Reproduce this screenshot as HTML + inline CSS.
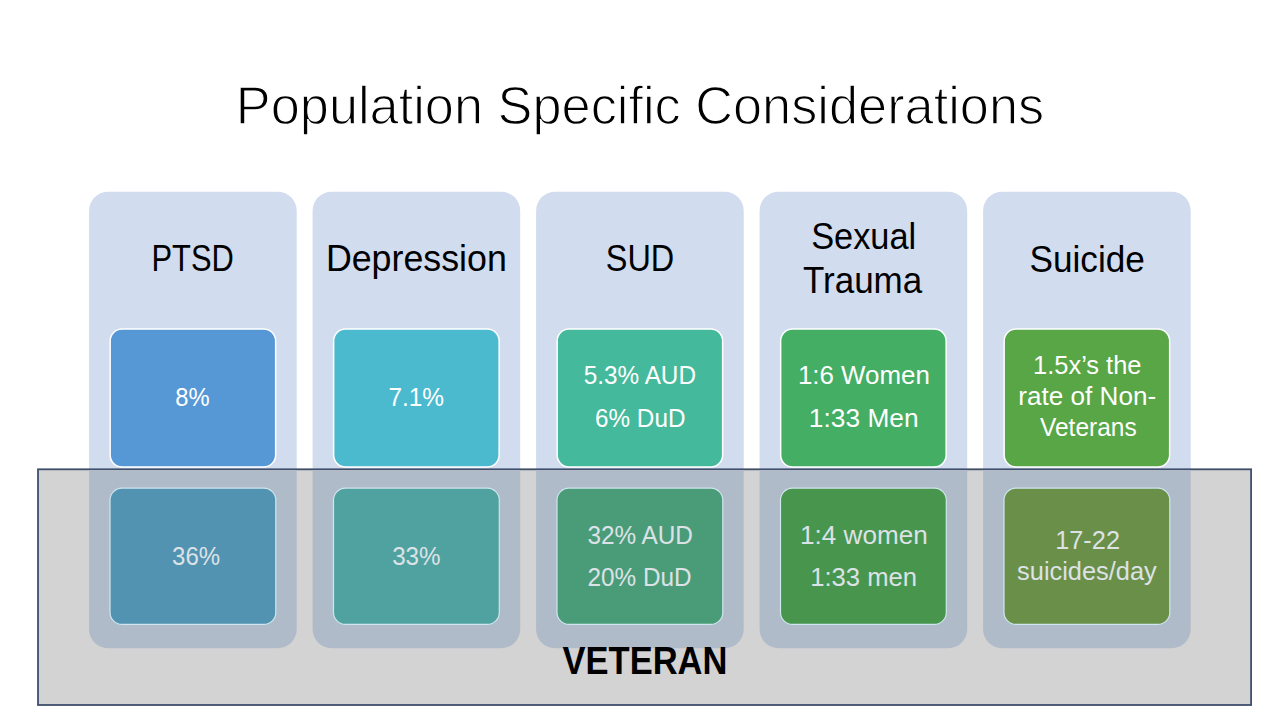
<!DOCTYPE html>
<html><head><meta charset="utf-8"><title>Population Specific Considerations</title>
<style>
html,body{margin:0;padding:0;background:#fff;width:1280px;height:720px;overflow:hidden;}
svg{display:block;}
</style></head><body>
<svg width="1280" height="720" viewBox="0 0 1280 720" font-family="Liberation Sans, sans-serif">
<rect x="0" y="0" width="1280" height="720" fill="#FFFFFF"/>
<rect x="89.10" y="191.7" width="207.6" height="456.60" rx="19" ry="19" fill="#D1DCEE"/>
<rect x="110.15" y="329.05" width="165.50" height="137.90" rx="12" ry="12" fill="#5698D6" stroke="#FFFFFF" stroke-width="1.5"/>
<rect x="312.60" y="191.7" width="207.6" height="456.60" rx="19" ry="19" fill="#D1DCEE"/>
<rect x="333.65" y="329.05" width="165.50" height="137.90" rx="12" ry="12" fill="#4BBACE" stroke="#FFFFFF" stroke-width="1.5"/>
<rect x="536.10" y="191.7" width="207.6" height="456.60" rx="19" ry="19" fill="#D1DCEE"/>
<rect x="557.15" y="329.05" width="165.50" height="137.90" rx="12" ry="12" fill="#45B99B" stroke="#FFFFFF" stroke-width="1.5"/>
<rect x="759.60" y="191.7" width="207.6" height="456.60" rx="19" ry="19" fill="#D1DCEE"/>
<rect x="780.65" y="329.05" width="165.50" height="137.90" rx="12" ry="12" fill="#44AE64" stroke="#FFFFFF" stroke-width="1.5"/>
<rect x="983.10" y="191.7" width="207.6" height="456.60" rx="19" ry="19" fill="#D1DCEE"/>
<rect x="1004.15" y="329.05" width="165.50" height="137.90" rx="12" ry="12" fill="#58A645" stroke="#FFFFFF" stroke-width="1.5"/>
<text x="235.82" y="123.70" font-size="54.30" font-weight="normal" fill="#000" textLength="808.35" lengthAdjust="spacingAndGlyphs" stroke="#FFFFFF" stroke-width="1.3">Population Specific Considerations</text>
<text x="151.53" y="271.00" font-size="37.00" font-weight="normal" fill="#000" textLength="82.27" lengthAdjust="spacingAndGlyphs">PTSD</text>
<text x="325.89" y="271.40" font-size="37.00" font-weight="normal" fill="#000" textLength="180.92" lengthAdjust="spacingAndGlyphs">Depression</text>
<text x="605.80" y="271.25" font-size="37.00" font-weight="normal" fill="#000" textLength="68.46" lengthAdjust="spacingAndGlyphs">SUD</text>
<text x="811.23" y="249.20" font-size="37.00" font-weight="normal" fill="#000" textLength="104.91" lengthAdjust="spacingAndGlyphs">Sexual</text>
<text x="802.90" y="293.00" font-size="37.00" font-weight="normal" fill="#000" textLength="119.37" lengthAdjust="spacingAndGlyphs">Trauma</text>
<text x="1029.49" y="271.60" font-size="37.00" font-weight="normal" fill="#000" textLength="115.38" lengthAdjust="spacingAndGlyphs">Suicide</text>
<text x="175.35" y="406.25" font-size="26.00" font-weight="normal" fill="#fff" textLength="34.34" lengthAdjust="spacingAndGlyphs">8%</text>
<text x="388.38" y="406.10" font-size="26.00" font-weight="normal" fill="#fff" textLength="55.74" lengthAdjust="spacingAndGlyphs">7.1%</text>
<text x="583.79" y="383.75" font-size="26.00" font-weight="normal" fill="#fff" textLength="112.23" lengthAdjust="spacingAndGlyphs">5.3% AUD</text>
<text x="595.04" y="426.50" font-size="26.00" font-weight="normal" fill="#fff" textLength="90.39" lengthAdjust="spacingAndGlyphs">6% DuD</text>
<text x="797.89" y="383.75" font-size="26.00" font-weight="normal" fill="#fff" textLength="131.97" lengthAdjust="spacingAndGlyphs">1:6 Women</text>
<text x="808.86" y="426.60" font-size="26.00" font-weight="normal" fill="#fff" textLength="109.72" lengthAdjust="spacingAndGlyphs">1:33 Men</text>
<text x="1033.02" y="374.40" font-size="26.00" font-weight="normal" fill="#fff" textLength="108.50" lengthAdjust="spacingAndGlyphs">1.5x’s the</text>
<text x="1018.33" y="405.00" font-size="26.00" font-weight="normal" fill="#fff" textLength="137.89" lengthAdjust="spacingAndGlyphs">rate of Non-</text>
<text x="1040.00" y="435.50" font-size="26.00" font-weight="normal" fill="#fff" textLength="96.74" lengthAdjust="spacingAndGlyphs">Veterans</text>
<rect x="38" y="469.3" width="1213.1" height="235.7" fill="#D3D3D3" stroke="#3F4F6C" stroke-width="1.8"/>
<clipPath id="ov"><rect x="38.9" y="470.2" width="1211.3" height="233.9"/></clipPath>
<g clip-path="url(#ov)">
<rect x="89.10" y="191.7" width="207.6" height="456.60" rx="19" ry="19" fill="#B0BBC9"/>
<rect x="312.60" y="191.7" width="207.6" height="456.60" rx="19" ry="19" fill="#B0BBC9"/>
<rect x="536.10" y="191.7" width="207.6" height="456.60" rx="19" ry="19" fill="#B0BBC9"/>
<rect x="759.60" y="191.7" width="207.6" height="456.60" rx="19" ry="19" fill="#B0BBC9"/>
<rect x="983.10" y="191.7" width="207.6" height="456.60" rx="19" ry="19" fill="#B0BBC9"/>
</g>
<rect x="110.00" y="488.10" width="165.80" height="136.30" rx="12" ry="12" fill="#5293B2" stroke="#CFE6EE" stroke-width="1.2"/>
<rect x="333.50" y="488.10" width="165.80" height="136.30" rx="12" ry="12" fill="#4FA29F" stroke="#CFE6EE" stroke-width="1.2"/>
<rect x="557.00" y="488.10" width="165.80" height="136.30" rx="12" ry="12" fill="#4A9C78" stroke="#CFE6EE" stroke-width="1.2"/>
<rect x="780.50" y="488.10" width="165.80" height="136.30" rx="12" ry="12" fill="#48954E" stroke="#CFE6EE" stroke-width="1.2"/>
<rect x="1004.00" y="488.10" width="165.80" height="136.30" rx="12" ry="12" fill="#6A8F48" stroke="#CFE6EE" stroke-width="1.2"/>
<text x="172.08" y="564.70" font-size="26.00" font-weight="normal" fill="#DCE2E6" textLength="48.02" lengthAdjust="spacingAndGlyphs">36%</text>
<text x="392.17" y="564.70" font-size="26.00" font-weight="normal" fill="#DCE2E6" textLength="48.43" lengthAdjust="spacingAndGlyphs">33%</text>
<text x="587.38" y="543.50" font-size="26.00" font-weight="normal" fill="#DCE2E6" textLength="105.53" lengthAdjust="spacingAndGlyphs">32% AUD</text>
<text x="587.53" y="586.00" font-size="26.00" font-weight="normal" fill="#DCE2E6" textLength="104.09" lengthAdjust="spacingAndGlyphs">20% DuD</text>
<text x="799.97" y="543.50" font-size="26.00" font-weight="normal" fill="#DCE2E6" textLength="127.74" lengthAdjust="spacingAndGlyphs">1:4 women</text>
<text x="810.20" y="586.00" font-size="26.00" font-weight="normal" fill="#DCE2E6" textLength="106.94" lengthAdjust="spacingAndGlyphs">1:33 men</text>
<text x="1055.23" y="549.40" font-size="26.00" font-weight="normal" fill="#DCE2E6" textLength="64.74" lengthAdjust="spacingAndGlyphs">17-22</text>
<text x="1017.09" y="579.60" font-size="26.00" font-weight="normal" fill="#DCE2E6" textLength="139.71" lengthAdjust="spacingAndGlyphs">suicides/day</text>
<text x="562.60" y="673.80" font-size="38.30" font-weight="bold" fill="#000" textLength="164.74" lengthAdjust="spacingAndGlyphs">VETERAN</text>
</svg>
</body></html>
